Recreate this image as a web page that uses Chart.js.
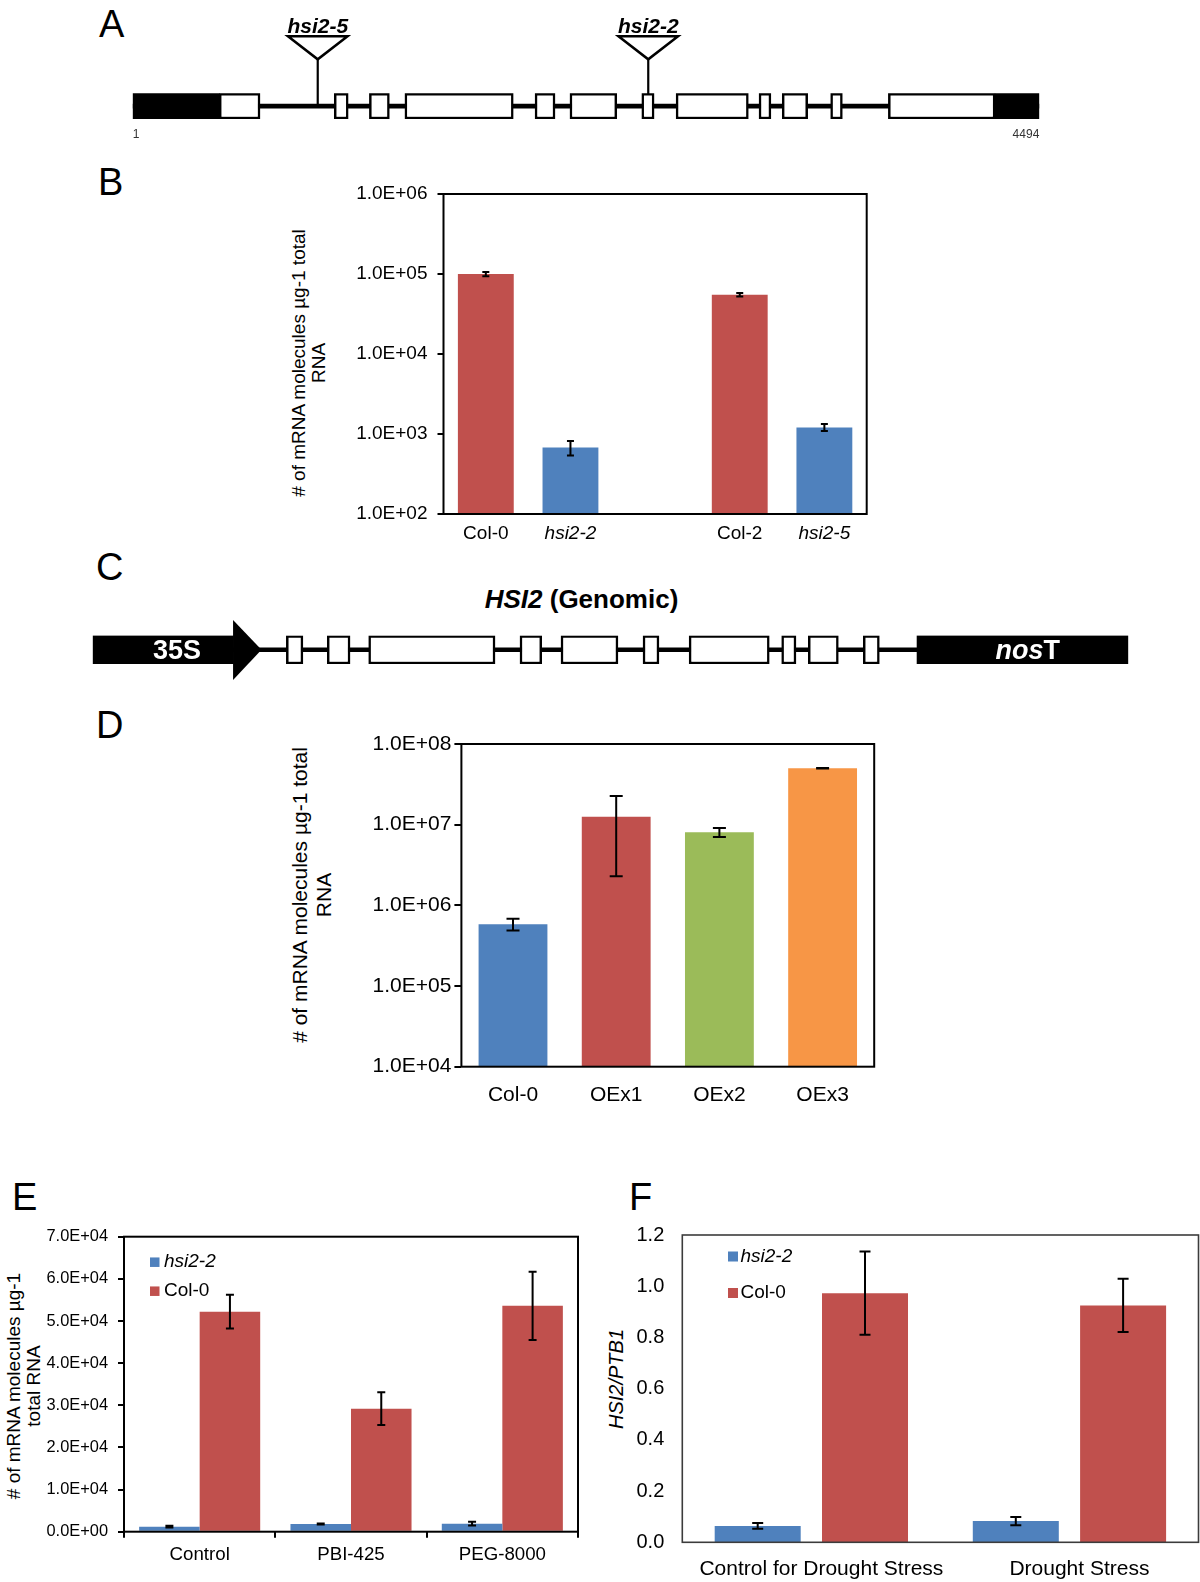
<!DOCTYPE html>
<html>
<head>
<meta charset="utf-8">
<title>HSI2 structure and expression</title>
<script src="https://cdn.jsdelivr.net/npm/chart.js@4.4.1/dist/chart.umd.min.js"></script>
<style>
  html, body { margin:0; padding:0; background:#fff; }
  body { position:relative; width:1200px; height:1582px; overflow:hidden;
         font-family:'Liberation Sans', Arial, Helvetica, sans-serif; color:#000; }
  canvas { position:absolute; }
  .panel { position:absolute; font-size:38px; line-height:38px; }
  .vt { position:absolute; white-space:nowrap; text-align:center;
        transform: translate(-50%,-50%) rotate(-90deg); }
  .ht { position:absolute; white-space:nowrap; transform: translateX(-50%); }
</style>
</head>
<body>
<div class="panel" style="left:99px;top:5px">A</div>
<div class="panel" style="left:98px;top:163px">B</div>
<div class="panel" style="left:96px;top:548px">C</div>
<div class="panel" style="left:96px;top:706px">D</div>
<div class="panel" style="left:12px;top:1178px">E</div>
<div class="panel" style="left:629px;top:1178px">F</div>

<div class="ht" style="left:581.5px;top:586px;font-weight:bold;font-size:26px;line-height:26px"><i>HSI2</i> (Genomic)</div>

<div class="vt" style="left:309px;top:363px;font-size:19px;line-height:20px"># of mRNA molecules µg-1 total<br>RNA</div>
<div class="vt" style="left:311.7px;top:895px;font-size:21px;line-height:24px"># of mRNA molecules µg-1 total<br>RNA</div>
<div class="vt" style="left:23.5px;top:1385.5px;font-size:19px;line-height:20px"># of mRNA molecules µg-1<br>total RNA</div>
<div class="vt" style="left:615.7px;top:1379px;font-size:20px;line-height:22px;font-style:italic">HSI2/PTB1</div>

<script>
// ---------------- DATA ----------------
// Panel A: HSI2 gene model (bp)
const aGeneStart = 1;
const aGeneEnd = 4494;
const aUTRs = [[1, 430], [4275, 4494]];
const aExons = [[430, 632], [1000, 1069], [1174, 1273], [1350, 1887], [1995, 2094], [2168, 2400],
                [2524, 2585], [2694, 3052], [3105, 3164], [3220, 3346], [3460, 3518], [3746, 4275]];
const aInsertionNames = ['hsi2-5', 'hsi2-2'];
const aInsertionPos = [918, 2556];
const aTickValues = [1, 4494];
const aTickLabels = ['1', '4494'];

// Panel B
const bCategories = ['Col-0', 'hsi2-2', '', 'Col-2', 'hsi2-5'];
const bValues = [100000, 680, null, 55000, 1210];
const bErrors = [6000, 140, null, 2700, 120];
const bTickValues = [1e2, 1e3, 1e4, 1e5, 1e6];
const bTickLabels = ['1.0E+02', '1.0E+03', '1.0E+04', '1.0E+05', '1.0E+06'];

// Panel C: 35S::HSI2 genomic construct (relative units)
const cPromoter = [0, 136];
const cArrowTip = 163;
const cExons = [[187, 203], [226.5, 248.5], [266.5, 388.5], [412.6, 433.6], [452.2, 507.2],
                [531.4, 546.8], [575.9, 653.3], [665.3, 679.1], [691, 720], [744.1, 759.6]];
const cTerminator = [796, 1000];
const cPromoterLabel = '35S';
const cTerminatorLabel = ['nos', 'T'];

// Panel D
const dCategories = ['Col-0', 'OEx1', 'OEx2', 'OEx3'];
const dValues = [585000, 12500000, 8050000, 50000000];
const dErrors = [98000, 10200000, 1030000, 400000];
const dTickValues = [1e4, 1e5, 1e6, 1e7, 1e8];
const dTickLabels = ['1.0E+04', '1.0E+05', '1.0E+06', '1.0E+07', '1.0E+08'];

// Panel E
const eCategories = ['Control', 'PBI-425', 'PEG-8000'];
const eSeries = ['hsi2-2', 'Col-0'];
const eHsi22 = [1200, 1830, 1900];
const eHsi22Err = [200, 120, 450];
const eCol0 = [52200, 29200, 53600];
const eCol0Err = [4000, 3900, 8100];
const eTickValues = [0, 10000, 20000, 30000, 40000, 50000, 60000, 70000];
const eTickLabels = ['0.0E+00', '1.0E+04', '2.0E+04', '3.0E+04', '4.0E+04', '5.0E+04', '6.0E+04', '7.0E+04'];

// Panel F
const fCategories = ['Control for Drought Stress', 'Drought Stress'];
const fSeries = ['hsi2-2', 'Col-0'];
const fHsi22 = [0.064, 0.083];
const fHsi22Err = [0.011, 0.016];
const fCol0 = [0.973, 0.925];
const fCol0Err = [0.1625, 0.104];
const fTickValues = [0, 0.2, 0.4, 0.6, 0.8, 1.0, 1.2];
const fTickLabels = ['0.0', '0.2', '0.4', '0.6', '0.8', '1.0', '1.2'];

// ---------------- STYLE ----------------
const FF = "'Liberation Sans', Arial, Helvetica, sans-serif";
const RED = '#C0504D', BLUE = '#4F81BD', GREEN = '#9BBB59', ORANGE = '#F79646';
const italicLabels = ['hsi2-2', 'hsi2-5'];
const bColors = [RED, BLUE, RED, RED, BLUE];
const dColors = [BLUE, RED, GREEN, ORANGE];

function place(left, top, w, h) {
  const c = document.createElement('canvas');
  c.width = w; c.height = h;
  c.style.left = left + 'px'; c.style.top = top + 'px';
  c.style.width = w + 'px'; c.style.height = h + 'px';
  document.body.appendChild(c);
  return c.getContext('2d');
}
const base = { responsive: false, maintainAspectRatio: false, animation: false, events: [], devicePixelRatio: 1 };
const noPlug = { legend: { display: false }, tooltip: { enabled: false } };

// ---------------- PLUGINS ----------------
const frame = {
  id: 'frame',
  afterDatasetsDraw(chart, args, o) {
    const { ctx, chartArea: a } = chart;
    ctx.save();
    ctx.strokeStyle = o.color || '#000';
    ctx.lineWidth = o.width || 2;
    ctx.strokeRect(a.left, a.top, a.right - a.left, a.bottom - a.top);
    ctx.restore();
  }
};
const errorBars = {
  id: 'errorBars',
  afterDatasetsDraw(chart, args, o) {
    const ctx = chart.ctx, ys = chart.scales.y;
    ctx.save();
    ctx.strokeStyle = '#000';
    ctx.lineWidth = o.width || 2;
    chart.data.datasets.forEach((ds, di) => {
      if (!ds.errors) return;
      const meta = chart.getDatasetMeta(di);
      meta.data.forEach((bar, i) => {
        const v = ds.data[i], e = ds.errors[i];
        if (v == null || e == null) return;
        const yt = ys.getPixelForValue(v + e), yb = ys.getPixelForValue(v - e);
        const x = bar.x, c = o.cap;
        ctx.beginPath();
        ctx.moveTo(x, yt); ctx.lineTo(x, yb);
        ctx.moveTo(x - c, yt); ctx.lineTo(x + c, yt);
        ctx.moveTo(x - c, yb); ctx.lineTo(x + c, yb);
        ctx.stroke();
      });
    });
    ctx.restore();
  }
};
const boxLegend = {
  id: 'boxLegend',
  afterDatasetsDraw(chart, args, o) {
    const { ctx, chartArea: a } = chart;
    ctx.save();
    chart.data.datasets.forEach((ds, i) => {
      const cy = a.top + o.y + i * o.dy;
      ctx.fillStyle = ds.backgroundColor;
      ctx.fillRect(a.left + o.x, cy - o.box / 2, o.box, o.box);
      ctx.fillStyle = '#000';
      ctx.font = (italicLabels.includes(ds.label) ? 'italic ' : '') + o.size + 'px ' + FF;
      ctx.textBaseline = 'middle';
      ctx.textAlign = 'left';
      ctx.fillText(ds.label, a.left + o.x + o.gap, cy);
    });
    ctx.restore();
  }
};
const insertions = {
  id: 'insertions',
  beforeDatasetsDraw(chart) {
    const { ctx, chartArea: a, scales: { x } } = chart;
    const yc = (a.top + a.bottom) / 2;
    ctx.save();
    ctx.strokeStyle = '#000';
    ctx.fillStyle = '#000';
    aInsertionPos.forEach((p, i) => {
      const px = x.getPixelForValue(p);
      const top = a.top - 57, apex = a.top - 34, hw = 29.8;
      ctx.lineWidth = 2.2;
      ctx.beginPath(); ctx.moveTo(px, apex); ctx.lineTo(px, yc); ctx.stroke();
      ctx.lineWidth = 2.5;
      ctx.beginPath(); ctx.moveTo(px - hw, top); ctx.lineTo(px + hw, top); ctx.lineTo(px, apex); ctx.closePath(); ctx.stroke();
      ctx.font = 'italic bold 21px ' + FF;
      ctx.textAlign = 'center'; ctx.textBaseline = 'alphabetic';
      ctx.fillText(aInsertionNames[i], px, a.top - 60.5);
    });
    ctx.restore();
  }
};
const construct = {
  id: 'construct',
  afterDatasetsDraw(chart) {
    const { ctx, chartArea: a, scales: { x } } = chart;
    const yc = (a.top + a.bottom) / 2;
    ctx.save();
    ctx.fillStyle = '#000';
    const xb = x.getPixelForValue(cPromoter[1]), xt = x.getPixelForValue(cArrowTip);
    ctx.beginPath();
    ctx.moveTo(xb - 0.5, a.top - 15.5); ctx.lineTo(xt, yc); ctx.lineTo(xb - 0.5, a.bottom + 16);
    ctx.closePath(); ctx.fill();
    ctx.fillStyle = '#fff';
    ctx.textBaseline = 'alphabetic';
    ctx.textAlign = 'center';
    ctx.font = 'bold 27px ' + FF;
    ctx.fillText(cPromoterLabel, x.getPixelForValue((cPromoter[0] + cArrowTip) / 2), yc + 9.7);
    const f1 = 'italic bold 27px ' + FF, f2 = 'bold 27px ' + FF;
    ctx.font = f1; const w1 = ctx.measureText(cTerminatorLabel[0]).width;
    ctx.font = f2; const w2 = ctx.measureText(cTerminatorLabel[1]).width;
    const cx = x.getPixelForValue((cTerminator[0] + cTerminator[1]) / 2) + 5;
    ctx.textAlign = 'left';
    ctx.font = f1; ctx.fillText(cTerminatorLabel[0], cx - (w1 + w2) / 2, yc + 9.7);
    ctx.font = f2; ctx.fillText(cTerminatorLabel[1], cx - (w1 + w2) / 2 + w1, yc + 9.7);
    ctx.restore();
  }
};

const span = arr => arr.map(r => ({ x: r, y: 'g' }));

// ---------------- PANEL A ----------------
new Chart(place(0, 0, 1200, 150), {
  type: 'bar',
  data: { labels: ['g'], datasets: [
    { label: 'exon', data: span(aExons), backgroundColor: '#fff', borderColor: '#000', borderWidth: 2.5,
      borderSkipped: false, stack: 'g', order: 0, categoryPercentage: 1, barPercentage: 1 },
    { label: 'utr', data: span(aUTRs), backgroundColor: '#000', borderColor: '#000', borderWidth: 0,
      borderSkipped: false, stack: 'g', order: 1, categoryPercentage: 1, barPercentage: 1 },
    { label: 'intron', data: span([[aGeneStart, aGeneEnd]]), backgroundColor: '#000', borderWidth: 0,
      barThickness: 4, stack: 'g', order: 2 }
  ]},
  options: { ...base, indexAxis: 'y',
    layout: { padding: { left: 132.7, right: 160.7, top: 93.3, bottom: 1 } },
    plugins: noPlug,
    scales: {
      x: { type: 'linear', min: aGeneStart, max: aGeneEnd, stacked: false,
        afterBuildTicks: s => { s.ticks = aTickValues.map(v => ({ value: v })); },
        afterFit: s => { s.height = 30; },
        grid: { display: false, drawTicks: false }, border: { display: false },
        ticks: { align: 'inner', padding: 8.8, color: '#333', font: { family: FF, size: 12 },
          callback: (v, i) => aTickLabels[i], maxRotation: 0, autoSkip: false } },
      y: { type: 'category', display: false, stacked: true }
    } },
  plugins: [insertions]
});

// ---------------- PANEL C ----------------
new Chart(place(0, 560, 1200, 130), {
  type: 'bar',
  data: { labels: ['g'], datasets: [
    { label: 'exon', data: span(cExons), backgroundColor: '#fff', borderColor: '#000', borderWidth: 2.5,
      borderSkipped: false, stack: 'g', order: 0, categoryPercentage: 1, barPercentage: 1 },
    { label: 'elements', data: span([cPromoter, cTerminator]), backgroundColor: '#000', borderWidth: 0,
      borderSkipped: false, stack: 'g', order: 1, categoryPercentage: 1, barPercentage: 1 },
    { label: 'backbone', data: span([[cPromoter[1], cTerminator[0]]]), backgroundColor: '#000', borderWidth: 0,
      barThickness: 4, stack: 'g', order: 2 }
  ]},
  options: { ...base, indexAxis: 'y',
    layout: { padding: { left: 92.7, right: 71.7, top: 75.5, bottom: 26 } },
    plugins: noPlug,
    scales: {
      x: { type: 'linear', min: 0, max: 1000, stacked: false, display: false },
      y: { type: 'category', display: false, stacked: true }
    } },
  plugins: [construct]
});

// ---------------- PANEL B ----------------
new Chart(place(340, 170, 540, 384), {
  type: 'bar',
  data: { labels: bCategories, datasets: [
    { label: 'B', data: bValues, errors: bErrors, backgroundColor: bColors, borderWidth: 0,
      categoryPercentage: 1, barPercentage: 0.66 }
  ]},
  options: { ...base,
    layout: { padding: { left: 0, right: 13.3, top: 24, bottom: 0 } },
    plugins: { ...noPlug, errorBars: { cap: 3.5, width: 2 }, frame: { width: 2, color: '#000' } },
    scales: {
      x: { grid: { display: false, drawTicks: false }, border: { display: false },
        afterFit: s => { s.height = 40; },
        ticks: { padding: 8, color: '#000', autoSkip: false, maxRotation: 0,
          font: c => ({ family: FF, size: 19, style: italicLabels.includes(bCategories[c.index]) ? 'italic' : 'normal' }) } },
      y: { type: 'logarithmic', min: 1e2, max: 1e6,
        afterFit: s => { s.width = 103.5; },
        afterBuildTicks: s => { s.ticks = bTickValues.map(v => ({ value: v })); },
        grid: { drawOnChartArea: false, drawTicks: true, tickLength: 6, color: '#000', lineWidth: 2 },
        border: { display: false },
        ticks: { padding: 10, color: '#000', font: { family: FF, size: 19 }, autoSkip: false,
          callback: (v, i) => bTickLabels[i] } }
    } },
  plugins: [frame, errorBars]
});

// ---------------- PANEL D ----------------
new Chart(place(360, 720, 530, 397), {
  type: 'bar',
  data: { labels: dCategories, datasets: [
    { label: 'D', data: dValues, errors: dErrors, backgroundColor: dColors, borderWidth: 0,
      categoryPercentage: 1, barPercentage: 0.667 }
  ]},
  options: { ...base,
    layout: { padding: { left: 0, right: 15.8, top: 24, bottom: 0 } },
    plugins: { ...noPlug, errorBars: { cap: 6.5, width: 2 }, frame: { width: 2, color: '#000' } },
    scales: {
      x: { grid: { display: false, drawTicks: false }, border: { display: false },
        afterFit: s => { s.height = 50.3; },
        ticks: { padding: 15.7, color: '#000', autoSkip: false, maxRotation: 0, font: { family: FF, size: 21 } } },
      y: { type: 'logarithmic', min: 1e4, max: 1e8,
        afterFit: s => { s.width = 101.4; },
        afterBuildTicks: s => { s.ticks = dTickValues.map(v => ({ value: v })); },
        grid: { drawOnChartArea: false, drawTicks: true, tickLength: 7, color: '#000', lineWidth: 2 },
        border: { display: false },
        ticks: { padding: 3, color: '#000', font: { family: FF, size: 21 }, autoSkip: false,
          callback: (v, i) => dTickLabels[i] } }
    } },
  plugins: [frame, errorBars]
});

// ---------------- PANEL E ----------------
new Chart(place(30, 1215, 560, 367), {
  type: 'bar',
  data: { labels: eCategories, datasets: [
    { label: eSeries[0], data: eHsi22, errors: eHsi22Err, backgroundColor: BLUE, borderWidth: 0,
      categoryPercentage: 0.8, barPercentage: 1 },
    { label: eSeries[1], data: eCol0, errors: eCol0Err, backgroundColor: RED, borderWidth: 0,
      categoryPercentage: 0.8, barPercentage: 1 }
  ]},
  options: { ...base,
    layout: { padding: { left: 0, right: 12, top: 21.7, bottom: 0 } },
    plugins: { ...noPlug, errorBars: { cap: 4, width: 2 }, frame: { width: 2, color: '#000' },
      boxLegend: { x: 26, y: 25.5, dy: 29, box: 9.5, gap: 14, size: 19 } },
    scales: {
      x: { grid: { display: true, drawOnChartArea: false, drawTicks: true, tickLength: 6, color: '#000', lineWidth: 2, offset: true },
        border: { display: false },
        afterFit: s => { s.height = 50.3; },
        ticks: { padding: 6.1, color: '#000', autoSkip: false, maxRotation: 0, font: { family: FF, size: 18.7 } } },
      y: { type: 'linear', min: 0, max: 70000,
        afterFit: s => { s.width = 94; },
        afterBuildTicks: s => { s.ticks = eTickValues.map(v => ({ value: v })); },
        grid: { drawOnChartArea: false, drawTicks: true, tickLength: 6, color: '#000', lineWidth: 2 },
        border: { display: false },
        ticks: { padding: 10, color: '#000', font: { family: FF, size: 16.4 }, autoSkip: false,
          callback: (v, i) => eTickLabels[i] } }
    } },
  plugins: [frame, errorBars, boxLegend]
});

// ---------------- PANEL F ----------------
new Chart(place(630, 1205, 570, 377), {
  type: 'bar',
  data: { labels: fCategories, datasets: [
    { label: fSeries[0], data: fHsi22, errors: fHsi22Err, backgroundColor: BLUE, borderWidth: 0,
      categoryPercentage: 0.8315, barPercentage: 0.8015 },
    { label: fSeries[1], data: fCol0, errors: fCol0Err, backgroundColor: RED, borderWidth: 0,
      categoryPercentage: 0.8315, barPercentage: 0.8015 }
  ]},
  options: { ...base,
    layout: { padding: { left: 0, right: 1.5, top: 26, bottom: 0 } },
    plugins: { ...noPlug, errorBars: { cap: 5.5, width: 2 }, frame: { width: 1.6, color: '#3c3c3c' },
      boxLegend: { x: 45.7, y: 21.5, dy: 36.5, box: 10, gap: 12.5, size: 19 } },
    scales: {
      x: { grid: { display: false, drawTicks: false }, border: { display: false },
        afterFit: s => { s.height = 39.7; },
        ticks: { padding: 14, labelOffset: 10, color: '#000', autoSkip: false, maxRotation: 0, font: { family: FF, size: 21 } } },
      y: { type: 'linear', min: 0, max: 1.2,
        afterFit: s => { s.width = 52.3; },
        afterBuildTicks: s => { s.ticks = fTickValues.map(v => ({ value: v })); },
        grid: { display: false, drawTicks: false },
        border: { display: false },
        ticks: { padding: 18, color: '#000', font: { family: FF, size: 20 }, autoSkip: false,
          callback: (v, i) => fTickLabels[i] } }
    } },
  plugins: [frame, errorBars, boxLegend]
});
</script>
</body>
</html>
